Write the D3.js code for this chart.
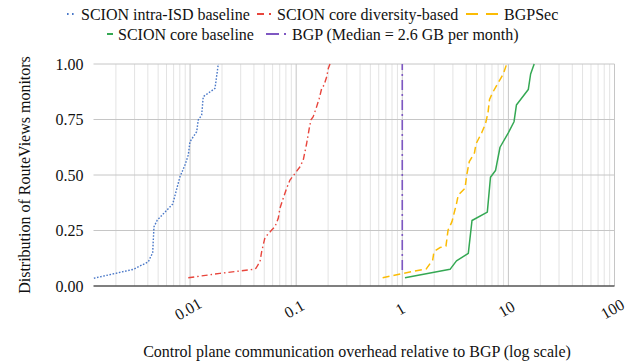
<!DOCTYPE html>
<html>
<head>
<meta charset="utf-8">
<script src="https://cdn.jsdelivr.net/npm/d3@7"></script>
<style>
  html, body { margin: 0; padding: 0; background: #fff; }
</style>
</head>
<body>
<svg id="chart" width="641" height="364" font-family="'Liberation Serif', 'Times New Roman', serif"></svg>
<script>
// CDF of per-monitor overhead relative to BGP: [relative overhead, fraction of monitors]
const intraIsdBaseline = [
  [0.00124, 0.035], [0.00292, 0.075], [0.00404, 0.109], [0.00444, 0.150],
  [0.00457, 0.267], [0.00491, 0.297], [0.00686, 0.369], [0.00803, 0.492],
  [0.00895, 0.545], [0.00962, 0.590], [0.00998, 0.650], [0.01154, 0.695],
  [0.01195, 0.748], [0.01286, 0.770], [0.01331, 0.853], [0.01717, 0.890],
  [0.01845, 1.000]
];
const coreDiversity = [
  [0.00962, 0.037], [0.0191, 0.057], [0.0394, 0.075], [0.0418, 0.080],
  [0.0456, 0.110], [0.0473, 0.155], [0.0508, 0.218], [0.0534, 0.230],
  [0.0588, 0.252], [0.0631, 0.267], [0.0678, 0.305], [0.0703, 0.350],
  [0.0755, 0.395], [0.0813, 0.440], [0.0874, 0.477], [0.0975, 0.507],
  [0.1087, 0.537], [0.1167, 0.568], [0.121, 0.605], [0.1256, 0.643],
  [0.1328, 0.710], [0.1378, 0.748], [0.1448, 0.763], [0.156, 0.808],
  [0.165, 0.845], [0.174, 0.890], [0.183, 0.905], [0.194, 0.943],
  [0.201, 0.981], [0.2084, 1.000]
];
const bgpSec = [
  [0.653, 0.037], [1.022, 0.057], [1.683, 0.077], [1.934, 0.117],
  [1.99, 0.155], [2.266, 0.173], [2.58, 0.180], [2.70, 0.252],
  [2.94, 0.290], [3.24, 0.370], [3.37, 0.410], [3.90, 0.440],
  [4.05, 0.500], [4.28, 0.560], [4.79, 0.600], [4.95, 0.640],
  [5.60, 0.690], [6.08, 0.730], [6.42, 0.780], [6.64, 0.840],
  [7.08, 0.870], [8.34, 0.930], [8.95, 0.955], [9.64, 1.000]
];
const coreBaseline = [
  [1.06, 0.037], [2.82, 0.075], [3.24, 0.113], [4.19, 0.147],
  [4.54, 0.295], [6.33, 0.333], [6.78, 0.490], [7.56, 0.520],
  [8.34, 0.625], [9.98, 0.690], [11.3, 0.740], [11.9, 0.815],
  [15.4, 0.885], [16.2, 0.955], [17.5, 1.000]
];
const bgp = [[1, 0.072], [1, 1.000]];

const seriesNames = [
  "SCION intra-ISD baseline", "SCION core diversity-based", "BGPSec",
  "SCION core baseline", "BGP (Median = 2.6 GB per month)"
];
const xTickValues = [0.01, 0.1, 1, 10, 100];
const xTickLabels = ["0.01", "0.1", "1", "10", "100"];
const yTickValues = [0, 0.25, 0.5, 0.75, 1];
const xTitle = "Control plane communication overhead relative to BGP (log scale)";
const yTitle = "Distribution of RouteViews monitors";

// ---- layout & styling ----
const svg = d3.select("#chart");
const textColor = "#111";
const plot = { left: 93.5, right: 614.5, top: 64, bottom: 286 };

const x = d3.scaleLog().domain([0.00123, 100]).range([plot.left, plot.right]);
const y = d3.scaleLinear().domain([0, 1]).range([plot.bottom, plot.top]);

const styles = [
  { data: intraIsdBaseline, color: "#4a78c8", dash: "1.6,1.6", width: 1.4 },
  { data: coreDiversity,   color: "#e8453c", dash: "6,3,1.5,3", width: 1.4 },
  { data: bgpSec,          color: "#fbbc05", dash: "7,4", width: 1.5 },
  { data: coreBaseline,    color: "#34a853", dash: null, width: 1.5 },
  { data: bgp,             color: "#7e57c2", dash: "10,4,2,4", width: 1.6 }
];

// minor & major vertical gridlines
const minorTicks = [];
for (let e = -3; e <= 1; e++) {
  for (let m = 2; m <= 9; m++) {
    const v = m * Math.pow(10, e);
    if (v >= x.domain()[0] && v <= 100) minorTicks.push(v);
  }
}
const grid = svg.append("g");
grid.selectAll("line.minor").data(minorTicks).join("line")
  .attr("x1", d => x(d)).attr("x2", d => x(d))
  .attr("y1", plot.top).attr("y2", plot.bottom)
  .attr("stroke", "#e3e3e3").attr("stroke-width", 1);
grid.selectAll("line.major").data(xTickValues).join("line")
  .attr("x1", d => x(d)).attr("x2", d => x(d))
  .attr("y1", plot.top).attr("y2", plot.bottom)
  .attr("stroke", "#c6c6c6").attr("stroke-width", 1);
grid.selectAll("line.h").data(yTickValues.filter(d => d > 0)).join("line")
  .attr("x1", plot.left).attr("x2", plot.right)
  .attr("y1", d => y(d)).attr("y2", d => y(d))
  .attr("stroke", "#c6c6c6").attr("stroke-width", 1);

// x axis baseline
svg.append("line")
  .attr("x1", plot.left).attr("x2", plot.right)
  .attr("y1", y(0)).attr("y2", y(0))
  .attr("stroke", "#555").attr("stroke-width", 1.5);

// y tick labels
svg.append("g").selectAll("text").data(yTickValues).join("text")
  .attr("x", 83.5).attr("y", d => y(d))
  .attr("text-anchor", "end").attr("dominant-baseline", "central")
  .attr("font-size", 16).attr("fill", textColor)
  .text(d => d3.format(".2f")(d));

// x tick labels, slanted
svg.append("g").selectAll("text").data(xTickValues).join("text")
  .attr("transform", d => `translate(${x(d) - 2},309) rotate(-30)`)
  .attr("text-anchor", "middle").attr("dominant-baseline", "central")
  .attr("font-size", 16).attr("fill", textColor)
  .text((d, i) => xTickLabels[i]);

// axis titles
svg.append("text")
  .attr("x", (plot.left + plot.right) / 2 + 3).attr("y", 351)
  .attr("text-anchor", "middle").attr("dominant-baseline", "central")
  .attr("font-size", 16).attr("fill", textColor)
  .text(xTitle);
svg.append("text")
  .attr("transform", `translate(24,${(plot.top + plot.bottom) / 2}) rotate(-90)`)
  .attr("text-anchor", "middle").attr("dominant-baseline", "central")
  .attr("font-size", 16).attr("fill", textColor)
  .text(yTitle);

// series lines
const line = d3.line().x(d => x(d[0])).y(d => y(d[1]));
svg.append("g").selectAll("path").data(styles).join("path")
  .attr("d", d => line(d.data))
  .attr("fill", "none")
  .attr("stroke", d => d.color)
  .attr("stroke-width", d => d.width)
  .attr("stroke-dasharray", d => d.dash)
  .attr("stroke-linejoin", "round");

// legend (two centred rows)
const legendItems = [
  { i: 0, sx: 67,  len: 10, dash: "1.6,3.4", tx: 81,  ty: 14 },
  { i: 1, sx: 257, len: 15, dash: "7,5,2,5", tx: 277, ty: 14 },
  { i: 2, sx: 466, len: 32, dash: "12,8",    tx: 504, ty: 14 },
  { i: 3, sx: 107, len: 6,  dash: null,      tx: 118, ty: 34 },
  { i: 4, sx: 266, len: 22, dash: "13,5,2,5", tx: 292, ty: 34 }
];
const legend = svg.append("g");
legendItems.forEach(it => {
  legend.append("line")
    .attr("x1", it.sx).attr("x2", it.sx + it.len)
    .attr("y1", it.ty).attr("y2", it.ty)
    .attr("stroke", styles[it.i].color).attr("stroke-width", 2)
    .attr("stroke-dasharray", it.dash);
  legend.append("text")
    .attr("x", it.tx).attr("y", it.ty)
    .attr("dominant-baseline", "central")
    .attr("font-size", 16).attr("fill", textColor)
    .text(seriesNames[it.i]);
});
</script>
</body>
</html>
